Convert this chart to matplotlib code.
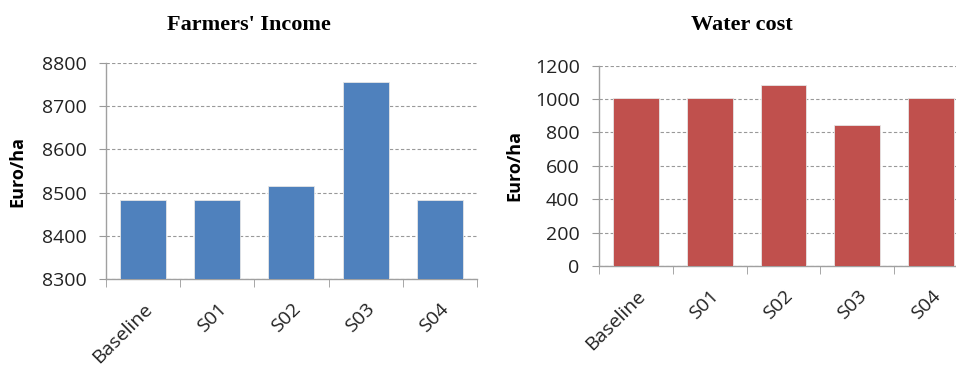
import matplotlib.pyplot as plt
import numpy as np

scenarios = ["Baseline", "S01", "S02", "S03", "S04"]
income = [8483, 8483, 8516, 8757, 8483]
water_cost = [1008, 1008, 1084, 845, 1008]

income_ticks = [8300, 8400, 8500, 8600, 8700, 8800]
water_ticks = [0, 200, 400, 600, 800, 1000, 1200]

BLUE = "#4F81BD"
RED = "#C0504D"
TICK_FONT = "Open Sans"


def style_axes(ax, values, color, yticks, label_x):
    x = np.arange(len(values))
    base = yticks[0]
    ax.bar(x, np.array(values) - base, bottom=base, width=0.62,
           color=color, edgecolor="#e6e6e6", linewidth=0.6, zorder=3)
    ax.set_xlim(-0.5, len(values) - 0.5)
    ax.set_ylim(yticks[0], yticks[-1])
    ax.set_yticks(yticks)
    ax.set_yticklabels([str(t) for t in yticks], fontsize=14,
                       family=TICK_FONT, color="#222222")
    ax.set_xticks(x)
    ax.set_xticklabels(scenarios, rotation=45, ha="right",
                       rotation_mode="anchor", fontsize=14,
                       family=TICK_FONT, color="#222222")
    ax.set_xticks(np.arange(len(values) + 1) - 0.5, minor=True)
    ax.tick_params(axis="x", which="major", length=0, pad=15)
    ax.tick_params(axis="x", which="minor", length=6, color="#999999",
                   direction="out")
    ax.tick_params(axis="y", length=5, color="#999999", pad=9)
    ax.grid(axis="y", linestyle=(0, (3, 2)), color="#999999",
            linewidth=0.8, zorder=0)
    for side in ["top", "right"]:
        ax.spines[side].set_visible(False)
    for side in ["left", "bottom"]:
        ax.spines[side].set_color("#a0a0a0")
        ax.spines[side].set_linewidth(1.0)
    ax.set_ylabel("Euro/ha", fontsize=13, fontweight="bold",
                  family=TICK_FONT, ha="center", va="center")
    ax.yaxis.set_label_coords(label_x, 0.5)


fig = plt.figure(figsize=(9.56, 3.65), dpi=100)

ax1 = fig.add_axes([0.1109, 0.2356, 0.388, 0.5918])
style_axes(ax1, income, BLUE, income_ticks, (17 - 106) / 371)

ax2 = fig.add_axes([0.6266, 0.2712, 0.386, 0.5488])
style_axes(ax2, water_cost, RED, water_ticks, (514 - 599) / 369)

fig.text(249 / 956, 1 - 25 / 365, "Farmers' Income", ha="center",
         va="center", fontsize=16, fontweight="bold",
         family="Liberation Serif")
fig.text(742 / 956, 1 - 25 / 365, "Water cost", ha="center",
         va="center", fontsize=16, fontweight="bold",
         family="Liberation Serif")

fig.savefig("out.png", dpi=100)
